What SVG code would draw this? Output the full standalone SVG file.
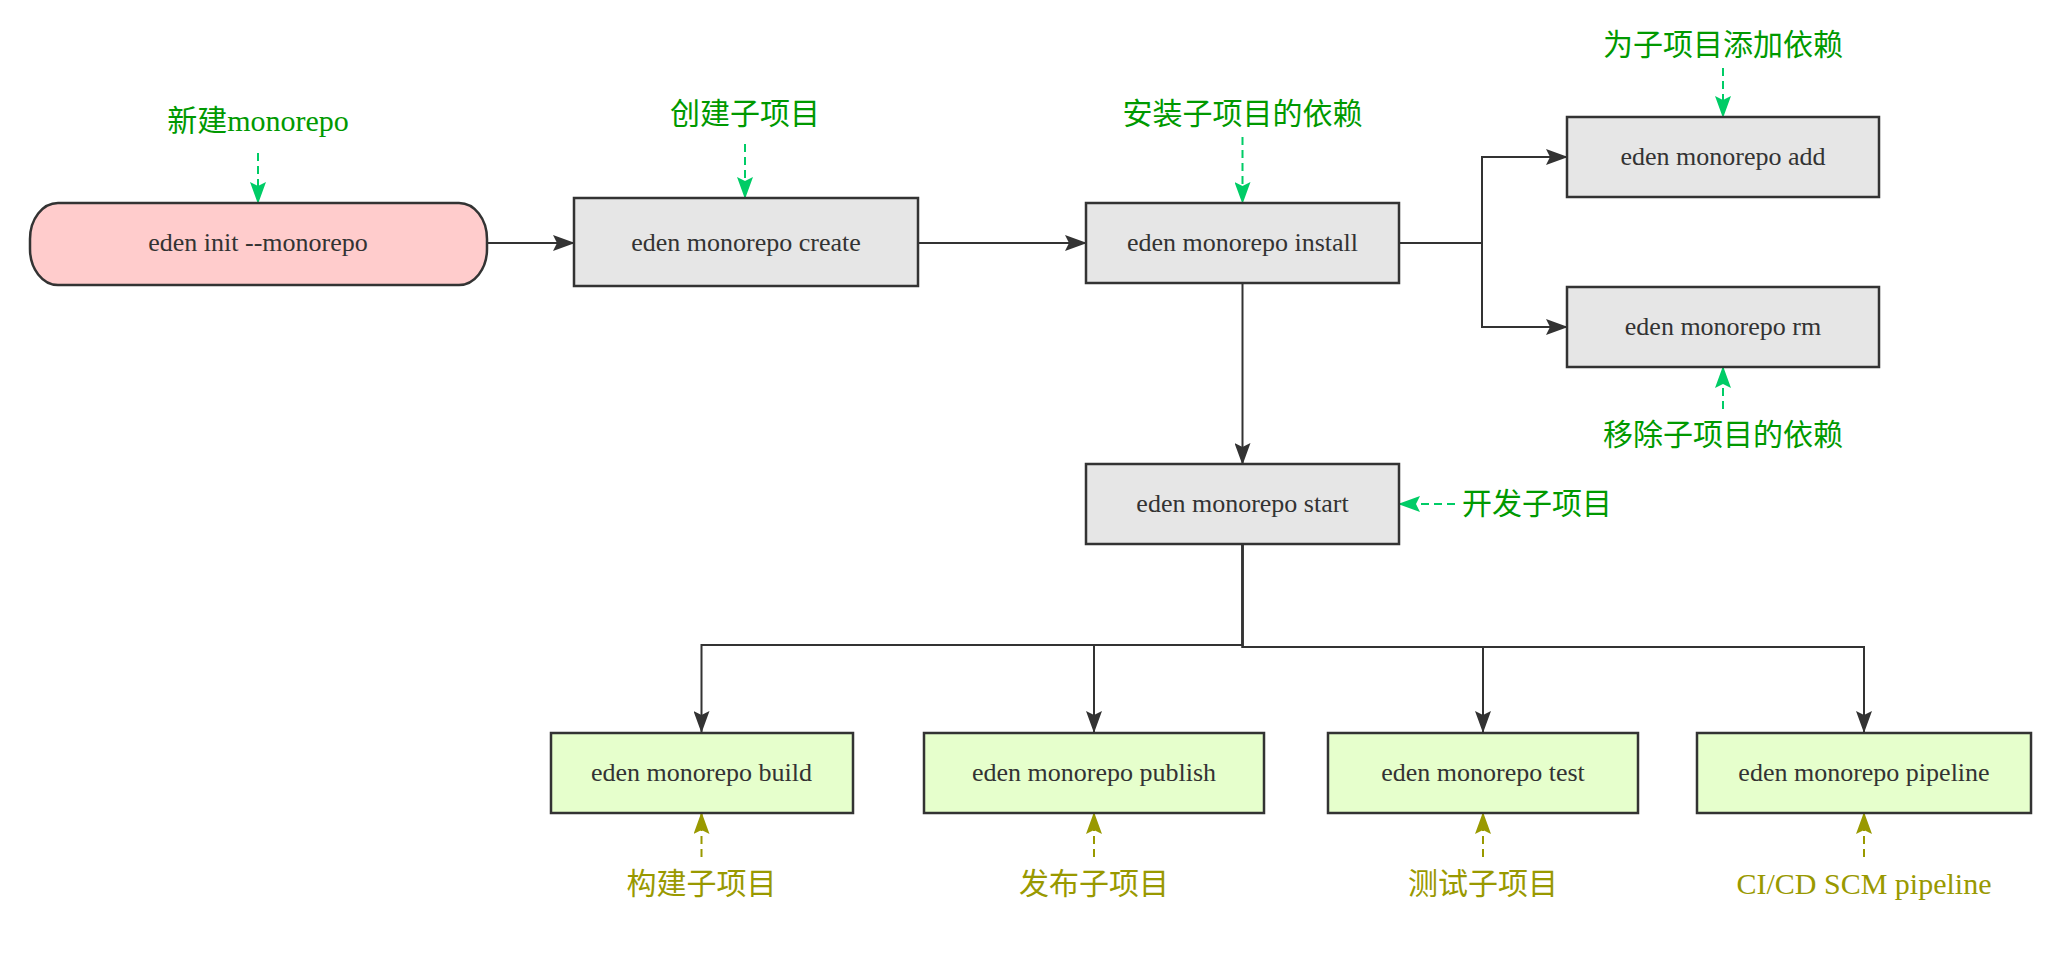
<svg xmlns="http://www.w3.org/2000/svg" width="2056" height="960" viewBox="0 0 2056 960">
  <style>
    .box { stroke: #333333; stroke-width: 2.5; }
    .gray { fill: #e6e6e6; }
    .pink { fill: #ffcccc; }
    .lime { fill: #e6ffcc; }
    .nt { font-family: "Liberation Serif", "Times New Roman", serif; font-size: 26px; fill: #333333; text-anchor: middle; }
    .lbl { font-family: "Liberation Serif", "Noto Sans CJK SC", serif; font-size: 30px; text-anchor: middle; }
    .lg { fill: #009900; }
    .lo { fill: #999900; }
    .edge { fill: none; stroke: #333333; stroke-width: 2; marker-end: url(#arrow); }
    .dg { fill: none; stroke: #00cc66; stroke-width: 2; stroke-dasharray: 8 5; marker-end: url(#arrow-green); }
    .do { fill: none; stroke: #999900; stroke-width: 2; stroke-dasharray: 8 5; marker-end: url(#arrow-olive); }
  </style>
  <defs>
    <marker id="arrow" markerUnits="userSpaceOnUse" markerWidth="22" markerHeight="16" refX="21" refY="8" orient="auto">
      <path d="M0,0 L22,8 L0,16 L4,8 Z" fill="#333333"/>
    </marker>
    <marker id="arrow-green" markerUnits="userSpaceOnUse" markerWidth="22" markerHeight="16" refX="21" refY="8" orient="auto">
      <path d="M0,0 L22,8 L0,16 L4,8 Z" fill="#00cc66"/>
    </marker>
    <marker id="arrow-olive" markerUnits="userSpaceOnUse" markerWidth="22" markerHeight="16" refX="21" refY="8" orient="auto">
      <path d="M0,0 L22,8 L0,16 L4,8 Z" fill="#999900"/>
    </marker>
  </defs>
  <rect width="2056" height="960" fill="#ffffff"/>

  <!-- connectors -->
  <g id="connectors">
    <path class="edge" d="M487,243 H574"/>
    <path class="edge" d="M918,243 H1086"/>
    <path class="edge" d="M1399,243 H1482 V157 H1567"/>
    <path class="edge" d="M1399,243 H1482 V327 H1567"/>
    <path class="edge" d="M1242.5,283 V464"/>
    <path class="edge" d="M1242.5,544 V645 H701.5 V732"/>
    <path class="edge" d="M1242.5,544 V645 H1094 V732"/>
    <path class="edge" d="M1242.5,544 V647 H1483 V732"/>
    <path class="edge" d="M1242.5,544 V647 H1864 V732"/>

    <!-- annotation arrows -->
    <path class="dg" d="M258,153 V203"/>
    <path class="dg" d="M745,144 V198"/>
    <path class="dg" d="M1242.5,137 V203"/>
    <path class="dg" d="M1723,68 V117"/>
    <path class="dg" d="M1723,409 V367"/>
    <path class="dg" d="M1455,504 H1399"/>
    <path class="do" d="M701.5,857 V813"/>
    <path class="do" d="M1094,857 V813"/>
    <path class="do" d="M1483,857 V813"/>
    <path class="do" d="M1864,857 V813"/>
  </g>

  <!-- command nodes -->
  <g id="node-init">
    <rect class="box pink" x="30" y="203" width="457" height="82" rx="28" ry="36"/>
    <text class="nt" x="258" y="251">eden init --monorepo</text>
  </g>
  <g id="node-create">
    <rect class="box gray" x="574" y="198" width="344" height="88"/>
    <text class="nt" x="746" y="251">eden monorepo create</text>
  </g>
  <g id="node-install">
    <rect class="box gray" x="1086" y="203" width="313" height="80"/>
    <text class="nt" x="1242.5" y="251">eden monorepo install</text>
  </g>
  <g id="node-add">
    <rect class="box gray" x="1567" y="117" width="312" height="80"/>
    <text class="nt" x="1723" y="165">eden monorepo add</text>
  </g>
  <g id="node-rm">
    <rect class="box gray" x="1567" y="287" width="312" height="80"/>
    <text class="nt" x="1723" y="335">eden monorepo rm</text>
  </g>
  <g id="node-start">
    <rect class="box gray" x="1086" y="464" width="313" height="80"/>
    <text class="nt" x="1242.5" y="512">eden monorepo start</text>
  </g>
  <g id="node-build">
    <rect class="box lime" x="551" y="733" width="302" height="80"/>
    <text class="nt" x="701.5" y="781">eden monorepo build</text>
  </g>
  <g id="node-publish">
    <rect class="box lime" x="924" y="733" width="340" height="80"/>
    <text class="nt" x="1094" y="781">eden monorepo publish</text>
  </g>
  <g id="node-test">
    <rect class="box lime" x="1328" y="733" width="310" height="80"/>
    <text class="nt" x="1483" y="781">eden monorepo test</text>
  </g>
  <g id="node-pipeline">
    <rect class="box lime" x="1697" y="733" width="334" height="80"/>
    <text class="nt" x="1864" y="781">eden monorepo pipeline</text>
  </g>

  <!-- annotations -->
  <g id="label-init"><text class="lbl lg" x="258" y="131">新建monorepo</text></g>
  <g id="label-create"><text class="lbl lg" x="745" y="124">创建子项目</text></g>
  <g id="label-install"><text class="lbl lg" x="1242.5" y="124">安装子项目的依赖</text></g>
  <g id="label-add"><text class="lbl lg" x="1723" y="55">为子项目添加依赖</text></g>
  <g id="label-rm"><text class="lbl lg" x="1723" y="445">移除子项目的依赖</text></g>
  <g id="label-start"><text class="lbl lg" x="1462" y="514" style="text-anchor:start">开发子项目</text></g>
  <g id="label-build"><text class="lbl lo" x="701.5" y="894">构建子项目</text></g>
  <g id="label-publish"><text class="lbl lo" x="1094" y="894">发布子项目</text></g>
  <g id="label-test"><text class="lbl lo" x="1483" y="894">测试子项目</text></g>
  <g id="label-pipeline"><text class="lbl lo" x="1864" y="894">CI/CD SCM pipeline</text></g>
</svg>
